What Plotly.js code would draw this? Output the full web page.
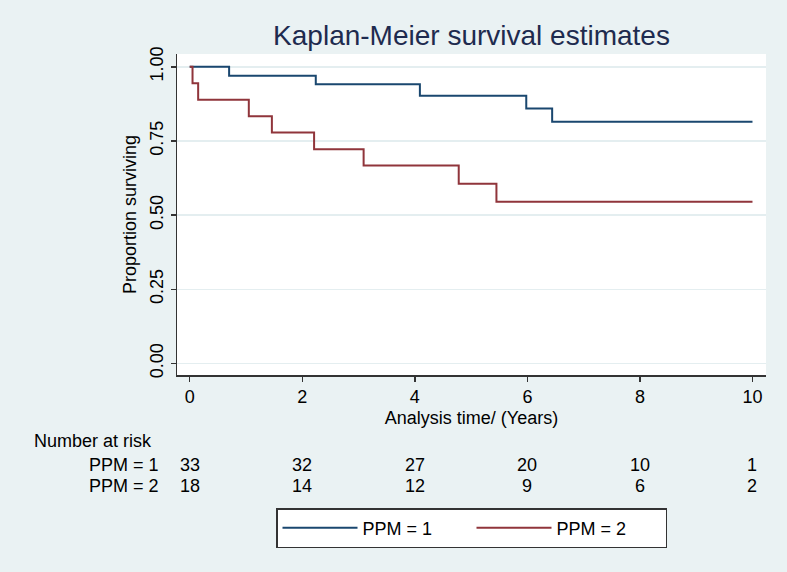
<!DOCTYPE html>
<html>
<head>
<meta charset="utf-8">
<script src="https://cdn.plot.ly/plotly-3.0.1.min.js"></script>
<style>html,body{margin:0;padding:0;background:#eaf2f3;}#chart{width:787px;height:572px;}</style>
</head>
<body>
<div id="chart"></div>
<script>
// Kaplan-Meier step data (time in years, survival proportion)
const ppm1Time = [0, 0.70, 2.24, 4.09, 5.98, 6.44, 10];
const ppm1Surv = [1, 0.970, 0.941, 0.902, 0.859, 0.815, 0.815];
const ppm2Time = [0, 0.05, 0.15, 1.05, 1.46, 2.21, 3.09, 4.78, 5.45, 10];
const ppm2Surv = [1, 0.944, 0.889, 0.833, 0.778, 0.722, 0.667, 0.606, 0.545, 0.545];

// Number-at-risk table
const riskTimes = [0, 2, 4, 6, 8, 10];
const riskPPM1 = [33, 32, 27, 20, 10, 1];
const riskPPM2 = [18, 14, 12, 9, 6, 2];
const groupLabels = ["PPM = 1", "PPM = 2"];

const xTicks = [0, 2, 4, 6, 8, 10];
const yTicks = [0, 0.25, 0.5, 0.75, 1];

const FONT = "Liberation Sans, Arial, sans-serif";

const traces = [
  {x: ppm1Time, y: ppm1Surv, type: "scatter", mode: "lines", line: {shape: "hv", color: "#1a476f", width: 2}, name: groupLabels[0]},
  {x: ppm2Time, y: ppm2Surv, type: "scatter", mode: "lines", line: {shape: "hv", color: "#90353b", width: 2}, name: groupLabels[1]}
];

const annotations = [];
annotations.push({text: "Number at risk", xref: "paper", yref: "paper", x: (32 - 177) / 589, y: (375 - 441) / 321, xanchor: "left", yanchor: "middle", showarrow: false, font: {size: 18, color: "#000", family: FONT}});
const rows = [riskPPM1, riskPPM2];
const rowY = [465, 486];
rows.forEach((row, r) => {
  annotations.push({text: groupLabels[r], xref: "paper", yref: "paper", x: (161 - 177) / 589, y: (375 - rowY[r]) / 321, xanchor: "right", yanchor: "middle", showarrow: false, font: {size: 18, color: "#000", family: FONT}});
  row.forEach((v, i) => {
    annotations.push({text: String(v), xref: "x", yref: "paper", x: riskTimes[i], y: (375 - rowY[r]) / 321, xanchor: "center", yanchor: "middle", showarrow: false, font: {size: 18, color: "#000", family: FONT}});
  });
});

const layout = {
  width: 787, height: 572,
  paper_bgcolor: "#eaf2f3",
  plot_bgcolor: "#ffffff",
  font: {family: FONT, size: 18, color: "#000"},
  margin: {l: 177, r: 21, t: 54, b: 197, pad: 0},
  title: {text: "Kaplan-Meier survival estimates", x: 0.5, xref: "paper", y: 1 - 35 / 572, yref: "container", yanchor: "middle", font: {size: 28, color: "#1e2b4f", family: FONT}},
  xaxis: {
    range: [-0.226, 10.24], tickvals: xTicks, ticktext: xTicks.map(String),
    showgrid: false, zeroline: false, showline: true, linecolor: "#333", linewidth: 1.5,
    ticks: "outside", ticklen: 5, tickcolor: "#333", tickwidth: 1.5,
    tickfont: {size: 18, color: "#000"},
    title: {text: "Analysis time/ (Years)", font: {size: 18, color: "#000"}, standoff: 5}
  },
  yaxis: {
    range: [-0.039, 1.043], tickvals: yTicks, ticktext: yTicks.map(v => v.toFixed(2)),
    tickangle: -90,
    showgrid: true, gridcolor: "#e4eef0", gridwidth: 1.5, zeroline: false,
    showline: true, linecolor: "#333", linewidth: 1.5,
    ticks: "outside", ticklen: 5, tickcolor: "#333", tickwidth: 1.5,
    tickfont: {size: 18, color: "#000"},
    title: {text: "Proportion surviving", font: {size: 18, color: "#000"}, standoff: 6}
  },
  showlegend: true,
  legend: {
    orientation: "h", x: 0.5, xanchor: "center", y: (375 - 508) / 321, yanchor: "top",
    bgcolor: "#ffffff", bordercolor: "#333", borderwidth: 1.5,
    font: {size: 18, color: "#000", family: FONT},
    itemwidth: 75, entrywidth: 104, entrywidthmode: "pixels"
  },
  annotations: annotations
};

Plotly.newPlot("chart", traces, layout, {displayModeBar: false, staticPlot: true});
</script>
</body>
</html>
